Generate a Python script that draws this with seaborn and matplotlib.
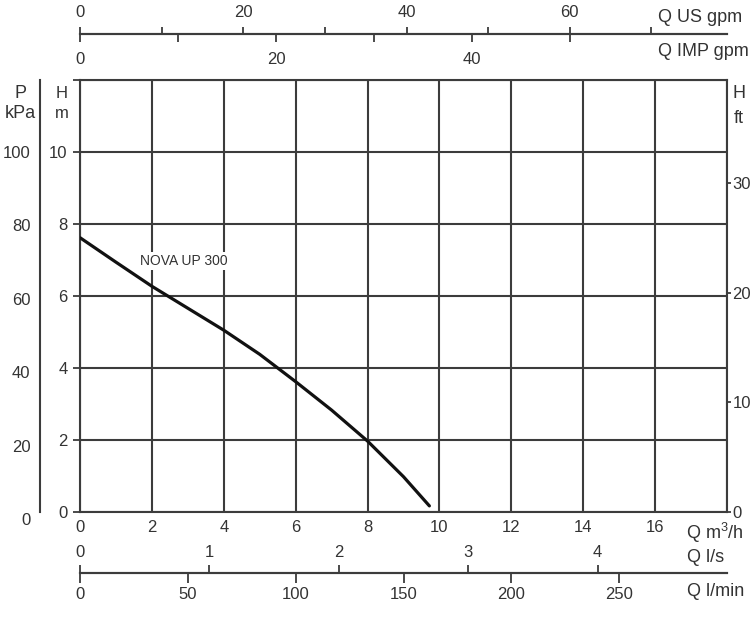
import numpy as np
import pandas as pd
import matplotlib
matplotlib.use("Agg")
import matplotlib.pyplot as plt
from matplotlib.transforms import ScaledTranslation
import seaborn as sns

# ---------------- data ----------------
q_m3h = [0, 1, 2, 3, 4, 5, 6, 7, 8, 9, 9.72]
h_m = [7.62, 6.94, 6.27, 5.66, 5.05, 4.38, 3.62, 2.83, 1.97, 0.98, 0.17]
curve_label = "NOVA UP 300"

m3h_ticks = [0, 2, 4, 6, 8, 10, 12, 14, 16]
h_ticks = [0, 2, 4, 6, 8, 10]
kpa_ticks = [0, 20, 40, 60, 80, 100]
ft_ticks = [0, 10, 20, 30]
usgpm_major = [0, 20, 40, 60]
usgpm_minor = [10, 30, 50, 70]
impgpm_major = [0, 20, 40]
impgpm_minor = [10, 30, 50]
ls_ticks = [0, 1, 2, 3, 4]
lmin_ticks = [0, 50, 100, 150, 200, 250]

# unit conversions relative to m3/h and m
US_PER_M3H = 4.40287
IMP_PER_M3H = 3.66615
LS_PER_M3H = 1 / 3.6
LMIN_PER_M3H = 1000 / 60
KPA_PER_M = 9.80665
FT_PER_M = 1 / 0.3048

XMAX, YMAX = 18, 12

sns.set_style("white")
plt.rcParams["font.family"] = ["Liberation Sans", "DejaVu Sans"]

W, H = 750, 618
fig = plt.figure(figsize=(W / 100, H / 100), dpi=100)

def fx(px):
    return px / W

def fy(py):
    return 1 - py / H

GC = "#3c3c3c"
TC = "#333333"
FS = 12

L, R, T, B = 80, 727, 80, 512
ax = fig.add_axes([fx(L), fy(B), (R - L) / W, (B - T) / H])
df = pd.DataFrame({"Q": q_m3h, "H": h_m})
sns.lineplot(data=df, x="Q", y="H", ax=ax, color="#111111", lw=2.3, zorder=5)
ax.set_xlim(0, XMAX)
ax.set_ylim(0, YMAX)
ax.set_xticks(list(range(0, XMAX + 1, 2)))
ax.set_xticklabels([str(v) for v in m3h_ticks] + [""])
ax.set_yticks(list(range(0, YMAX + 1, 2)))
ax.set_yticklabels([str(v) for v in h_ticks] + [""])
ax.grid(True, color=GC, lw=1.5)
ax.set_xlabel("")
ax.set_ylabel("")
for s in ax.spines.values():
    s.set_color(GC)
    s.set_linewidth(1.5)
ax.tick_params(axis="y", direction="out", length=5, width=1.3, color=GC,
               labelsize=FS, labelcolor=TC, pad=4)
ax.tick_params(axis="x", direction="out", length=2, width=1.3, color=GC,
               labelsize=FS, labelcolor=TC, pad=4)
ax.text(1.68, 6.98, curve_label, fontsize=10, color="#333333",
        ha="left", va="center", zorder=6,
        bbox=dict(facecolor="white", edgecolor="none", pad=1.5))

# right ft axis
ax_ft = ax.twinx()
ax_ft.set_ylim(0, YMAX * FT_PER_M)
ax_ft.set_yticks(ft_ticks)
ax_ft.set_yticklabels([str(v) for v in ft_ticks])
ax_ft.tick_params(axis="y", direction="out", length=3, width=1.3, color=GC,
                  labelsize=FS, labelcolor=TC, pad=1)
for s in ax_ft.spines.values():
    s.set_visible(False)
ax_ft.grid(False)

# left kPa axis
ax_p = fig.add_axes([fx(40), fy(B), 0.0001, (B - T) / H])
ax_p.set_ylim(0, YMAX * KPA_PER_M)
ax_p.set_yticks(kpa_ticks)
ax_p.set_yticklabels([str(v) for v in kpa_ticks])
ax_p.set_xticks([])
for k, s in ax_p.spines.items():
    s.set_visible(k == "left")
ax_p.spines["left"].set_color(GC)
ax_p.spines["left"].set_linewidth(1.5)
ax_p.tick_params(axis="y", direction="out", length=5, width=1.3, color=GC,
                 labelsize=FS, labelcolor=TC, pad=2)
for lbl in ax_p.get_yticklabels():
    lbl.set_transform(lbl.get_transform() + ScaledTranslation(0, -5 / 72, fig.dpi_scale_trans))


def hscale(ypix, xmax, major, minor, side, ticklen, pad):
    a = fig.add_axes([fx(L), fy(ypix), (R - L) / W, 0.0001])
    a.set_xlim(0, xmax)
    a.set_yticks([])
    for k, s in a.spines.items():
        s.set_visible(k == side)
        s.set_color(GC)
        s.set_linewidth(1.5)
    if side == "top":
        a.xaxis.tick_top()
    else:
        a.xaxis.tick_bottom()
    a.set_xticks(major)
    a.set_xticklabels([str(v) for v in major])
    a.set_xticks(minor, minor=True)
    a.tick_params(axis="x", which="both", direction="out", length=ticklen, width=1.3,
                  color=GC, labelsize=FS, labelcolor=TC, pad=pad)
    a.set_facecolor("none")
    return a

# top scales
hscale(34, XMAX * US_PER_M3H, usgpm_major, usgpm_minor, "top", 5, 5)
hscale(34, XMAX * IMP_PER_M3H, impgpm_major, impgpm_minor, "bottom", 6, 7)

# bottom scales
hscale(573, XMAX * LS_PER_M3H, ls_ticks, [], "top", 6, 3)
hscale(573, XMAX * LMIN_PER_M3H, lmin_ticks, [], "bottom", 7, 3)

# unit labels
LFS = 13
fig.text(fx(658), fy(17), "Q US gpm", fontsize=LFS, color=TC, ha="left", va="center")
fig.text(fx(658), fy(51), "Q IMP gpm", fontsize=LFS, color=TC, ha="left", va="center")
fig.text(fx(686), fy(533), "Q m$^{\\mathregular{3}}$/h", fontsize=LFS, color=TC, ha="left", va="center")
fig.text(fx(687), fy(557), "Q l/s", fontsize=LFS, color=TC, ha="left", va="center")
fig.text(fx(687), fy(591), "Q l/min", fontsize=LFS, color=TC, ha="left", va="center")
fig.text(fx(20), fy(93), "P", fontsize=13, color=TC, ha="center", va="center")
fig.text(fx(20), fy(114), "kPa", fontsize=13, color=TC, ha="center", va="center")
fig.text(fx(62), fy(93), "H", fontsize=12, color=TC, ha="center", va="center")
fig.text(fx(62), fy(113), "m", fontsize=12, color=TC, ha="center", va="center")
fig.text(fx(739), fy(93), "H", fontsize=13, color=TC, ha="center", va="center")
fig.text(fx(739), fy(118), "ft", fontsize=13, color=TC, ha="center", va="center")

fig.savefig("out.png", dpi=100, facecolor="white")
